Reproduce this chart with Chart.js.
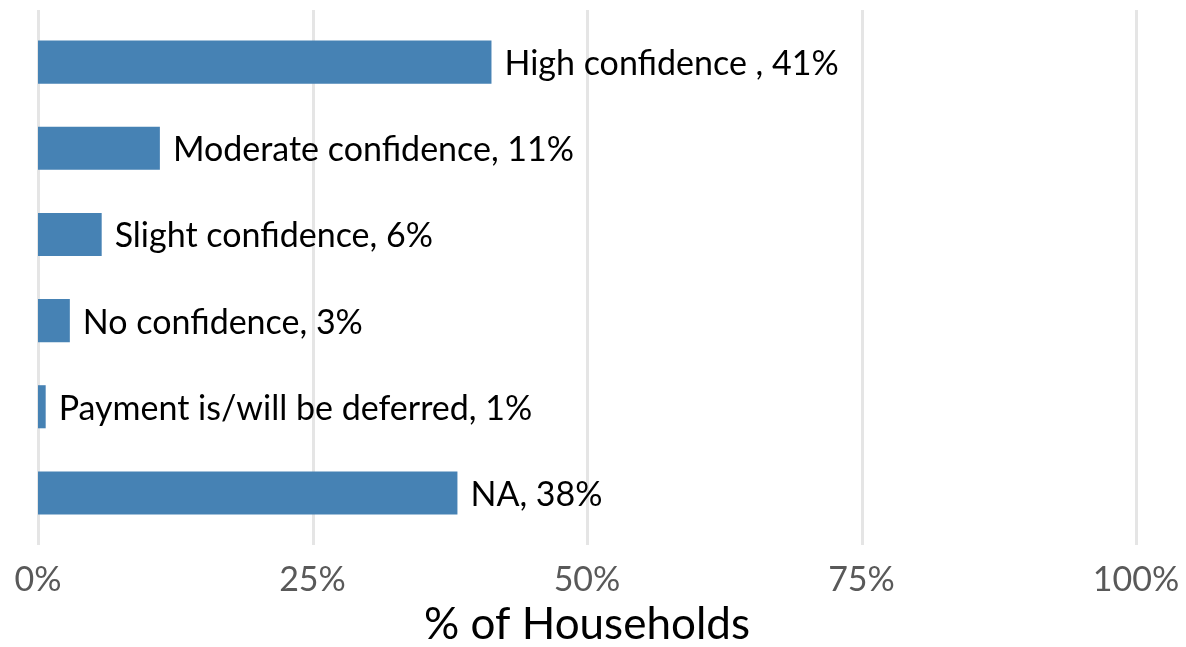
<!DOCTYPE html>
<html>
<head>
<meta charset="utf-8">
<script src="https://cdn.jsdelivr.net/npm/chart.js@4"></script>
<style>
  html, body { margin: 0; padding: 0; background: #fff; }
  #wrap { width: 1186px; height: 647px; }
</style>
</head>
<body>
<div id="wrap"><canvas id="chart"></canvas></div>
<script>
// Data
const categories = ['High confidence ', 'Moderate confidence', 'Slight confidence', 'No confidence', 'Payment is/will be deferred', 'NA'];
const shares = [41.3, 11.1, 5.8, 2.9, 0.7, 38.2];
const shareLabels = ['41%', '11%', '6%', '3%', '1%', '38%'];
const xTicks = [0, 25, 50, 75, 100];

const FONT = 'Lato, "Open Sans", sans-serif';

// vertical grid lines, a bit taller than the bar area
const gridPlugin = {
    id: 'grid',
    beforeDatasetsDraw(chart) {
        const ctx = chart.ctx;
        const x = chart.scales.x;
        const area = chart.chartArea;
        ctx.save();
        ctx.strokeStyle = '#e5e5e5';
        ctx.lineWidth = 3;
        xTicks.forEach(v => {
            const px = Math.round(x.getPixelForValue(v)) + 0.5;
            ctx.beginPath();
            ctx.moveTo(px, area.top - 9);
            ctx.lineTo(px, area.bottom + 9);
            ctx.stroke();
        });
        ctx.restore();
    }
};

// "Category, NN%" label after each bar
const labelPlugin = {
    id: 'barLabels',
    afterDatasetsDraw(chart) {
        const ctx = chart.ctx;
        const meta = chart.getDatasetMeta(0);
        ctx.save();
        ctx.font = '34px ' + FONT;
        ctx.fillStyle = '#000';
        ctx.textBaseline = 'middle';
        ctx.textAlign = 'left';
        meta.data.forEach((bar, i) => {
            ctx.fillText(categories[i] + ', ' + shareLabels[i], bar.x + 13, bar.y + 2);
        });
        ctx.restore();
    }
};

const ctx = document.getElementById('chart').getContext('2d');
new Chart(ctx, {
    type: 'bar',
    data: {
        labels: categories,
        datasets: [{
            data: shares,
            backgroundColor: '#4682b4',
            borderWidth: 0,
            categoryPercentage: 1,
            barPercentage: 0.5
        }]
    },
    options: {
        indexAxis: 'y',
        responsive: true,
        maintainAspectRatio: false,
        animation: false,
        layout: { padding: { left: 38, right: 50, top: 19, bottom: 0 } },
        plugins: {
            legend: { display: false },
            tooltip: { enabled: false }
        },
        scales: {
            x: {
                min: 0,
                max: 100,
                afterBuildTicks: axis => { axis.ticks = xTicks.map(v => ({ value: v })); },
                afterFit: axis => { axis.paddingLeft = 0; axis.paddingRight = 0; },
                grid: { display: false, drawTicks: true, tickLength: 27 },
                border: { display: false },
                ticks: {
                    padding: 0,
                    color: '#595959',
                    font: { family: FONT, size: 34, lineHeight: 1 },
                    callback: v => v + '%'
                },
                title: {
                    display: true,
                    text: '% of Households',
                    color: '#000',
                    font: { family: FONT, size: 44, lineHeight: 1 },
                    padding: { top: 6, bottom: 0 }
                }
            },
            y: {
                display: false
            }
        }
    },
    plugins: [gridPlugin, labelPlugin]
});
</script>
</body>
</html>
